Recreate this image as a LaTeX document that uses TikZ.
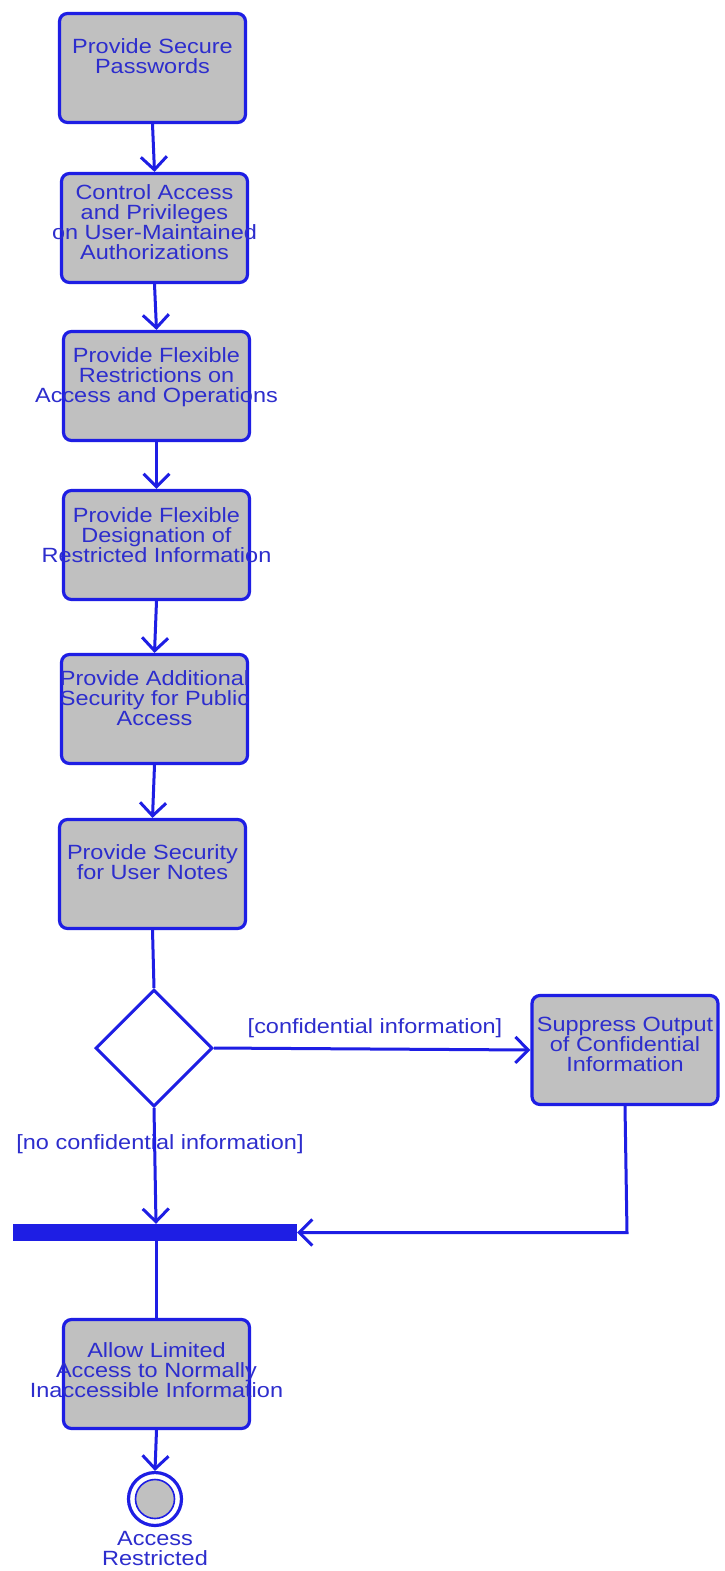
\documentclass[tikz,border=0pt]{standalone}
\usepackage{fontspec}
\setmainfont[FakeStretch=1.14]{Liberation Sans}
\usetikzlibrary{arrows.meta,shapes.geometric}
\definecolor{umlblue}{RGB}{30,30,228}
\definecolor{umltext}{RGB}{45,45,205}
\definecolor{umlgray}{RGB}{192,192,192}
\begin{document}
\begin{tikzpicture}[x=1pt,y=-1pt,
 actbox/.style={draw=umlblue, line width=3.2pt, fill=umlgray, rounded corners=8pt, minimum width=186pt, minimum height=109pt, inner sep=0pt},
 acttext/.style={text=umltext, align=center, font=\fontsize{20.6}{20}\selectfont, inner sep=0pt},
 flow/.style={draw=umlblue, line width=3pt, -{Straight Barb[length=13pt,width=26pt,line width=3pt]}},
 plainflow/.style={draw=umlblue, line width=3pt},
]
\fill[white] (0,0) rectangle (724,1571);
% activities
\node[actbox] (b1) at (152.5,68) {};
\node[acttext] (t1) at (152.5,56.5) {Provide Secure\\Passwords};
\node[actbox] (b2) at (154.5,228) {};
\node[acttext] (t2) at (154.5,222.5) {Control Access\\and Privileges\\on User-Maintained\\Authorizations};
\node[actbox] (b3) at (156.5,386) {};
\node[acttext] (t3) at (156.5,377) {Provide Flexible\\Restrictions on\\Access and Operations};
\node[actbox] (b4) at (156.5,545) {};
\node[acttext] (t4) at (156.5,535) {Provide Flexible\\Designation of\\Restricted Information};
\node[actbox] (b5) at (154.5,709) {};
\node[acttext] (t5) at (154.5,698) {Provide Additional\\Security for Public\\Access};
\node[actbox] (b6) at (152.5,874) {};
\node[acttext] (t6) at (152.5,862) {Provide Security\\for User Notes};
\node[diamond, draw=umlblue, line width=3pt, fill=white, minimum width=117pt, minimum height=117pt, inner sep=0pt] (dec) at (154,1048) {};
\node[actbox] (sup) at (625,1050) {};
\node[acttext] (tsup) at (625,1044) {Suppress Output\\of Confidential\\Information};
\node[fill=umlblue, minimum width=284pt, minimum height=17pt, inner sep=0pt] (bar) at (155,1232.5) {};
\node[actbox] (b7) at (156.5,1374) {};
\node[acttext] (t7) at (156.5,1370) {Allow Limited\\Access to Normally\\Inaccessible Information};
\node[circle, draw=umlblue, line width=3.2pt, fill=white, minimum size=53pt, inner sep=0pt] (fin) at (155,1499) {};
\node[circle, draw=umlblue, line width=1.6pt, fill=umlgray, minimum size=39pt, inner sep=0pt] (finin) at (fin.center) {};
\node[acttext] (fint) at (155,1548) {Access\\Restricted};
% guard labels
\node[acttext] (lc) at (375,1028) {[confidential information]};
\node[acttext] (lnc) at (160,1144) {[no confidential information]};
% connectors
\draw[flow] (b1.south) -- (b2.north);
\draw[flow] (b2.south) -- (b3.north);
\draw[flow] (b3.south) -- (b4.north);
\draw[flow] (b4.south) -- (b5.north);
\draw[flow] (b5.south) -- (b6.north);
\draw[plainflow] (b6.south) -- (dec.north);
\draw[flow] (dec.east) -- (sup.west);
\draw[flow] (dec.south) -- ([xshift=2pt]dec.south |- bar.north);
\coordinate (corner) at ([xshift=2pt]sup.south |- bar.east);
\draw[flow] (sup.south) -- (corner) -- (bar.east);
\draw[plainflow] (b7.north |- bar.south) -- (b7.north);
\draw[flow] (b7.south) -- (fin.north);
\end{tikzpicture}
\end{document}
